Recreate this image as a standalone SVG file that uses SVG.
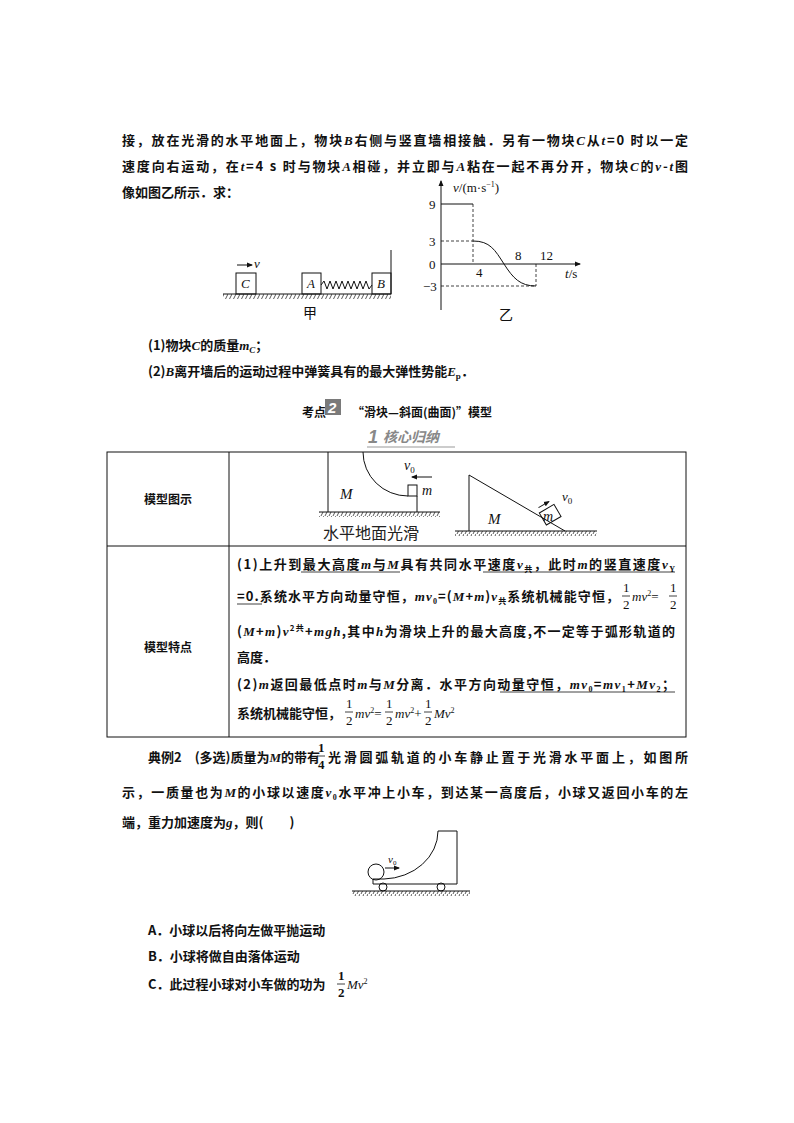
<svg xmlns="http://www.w3.org/2000/svg" width="794" height="1123" viewBox="0 0 794 1123">
<style>
.t{font-family:"Noto Sans CJK SC","Liberation Serif",sans-serif;font-size:13px;font-weight:bold;fill:#111}
.s{font-family:"Liberation Serif","Noto Sans CJK SC",serif;font-size:13px;fill:#111}
.i{font-style:italic}
.ln{stroke:#111;stroke-width:1;fill:none}
.d{stroke:#111;stroke-width:0.8;fill:none;stroke-dasharray:3,2}
.u{stroke:#111;stroke-width:0.8}
</style>
<defs>
<pattern id="h" width="4" height="6" patternUnits="userSpaceOnUse"><path d="M4,0 L1,6" stroke="#111" stroke-width="0.7"/></pattern>
<marker id="a" markerWidth="6" markerHeight="6" refX="5" refY="3" orient="auto"><path d="M0,0.5 L6,3 L0,5.5 Z" fill="#111"/></marker>
</defs>
<rect width="794" height="1123" fill="#fff"/>

<text class="t" x="122" y="145" textLength="566">接，放在光滑的水平地面上，物块<tspan class="s i">B</tspan>右侧与竖直墙相接触．另有一物块<tspan class="s i">C</tspan>从<tspan class="s i">t</tspan>=0 时以一定</text>
<text class="t" x="122" y="171" textLength="566">速度向右运动，在<tspan class="s i">t</tspan>=4 s 时与物块<tspan class="s i">A</tspan>相碰，并立即与<tspan class="s i">A</tspan>粘在一起不再分开，物块<tspan class="s i">C</tspan>的<tspan class="s i">v</tspan>-<tspan class="s i">t</tspan>图</text>
<text class="t" x="122" y="197">像如图乙所示．求：</text>

<g id="fig-jia">
<rect x="223" y="294" width="168" height="5" fill="url(#h)"/>
<line class="ln" x1="223" y1="294" x2="391" y2="294"/>
<line class="ln" x1="391" y1="250" x2="391" y2="294"/>
<rect class="ln" x="236" y="273" width="20" height="21"/>
<rect class="ln" x="302" y="273" width="19" height="21"/>
<rect class="ln" x="372" y="273" width="19" height="21"/>
<polyline class="ln" points="321,285 324,281 327,289 330,281 333,289 336,281 339,289 342,281 345,289 348,281 351,289 354,281 357,289 360,281 363,289 366,281 369,289 372,285"/>
<text class="s i" x="241" y="288">C</text><text class="s i" x="307" y="288">A</text><text class="s i" x="377" y="288">B</text>
<line class="ln" x1="237" y1="265" x2="252" y2="265" marker-end="url(#a)"/>
<text class="s i" x="254" y="268">v</text>
<text class="s" x="303" y="318" style="font-size:14px">甲</text>
</g>

<g id="fig-yi">
<line class="ln" x1="441" y1="310" x2="441" y2="181" marker-end="url(#a)"/>
<line class="ln" x1="441" y1="264" x2="580" y2="264" marker-end="url(#a)"/>
<polyline class="ln" points="441,204 473,204"/>
<line class="d" x1="473" y1="204" x2="473" y2="264"/>
<line class="d" x1="441" y1="241" x2="473" y2="241"/>
<path class="ln" d="M473,241 C490,241 495,250 504,264 C513,278 520,286 536,286"/>
<line class="d" x1="536" y1="264" x2="536" y2="286"/>
<line class="d" x1="441" y1="286" x2="536" y2="286"/>
<text class="s" x="453" y="192"><tspan class="i">v</tspan>/(m·s<tspan dy="-5" style="font-size:8px">−1</tspan><tspan dy="5">)</tspan></text>
<text class="s" x="429" y="209">9</text><text class="s" x="429" y="246">3</text><text class="s" x="429" y="269">0</text><text class="s" x="423" y="291">−3</text>
<text class="s" x="476" y="277">4</text><text class="s" x="515" y="260">8</text><text class="s" x="540" y="260">12</text>
<text class="s" x="565" y="278"><tspan class="i">t</tspan>/s</text>
<text class="s" x="499" y="320" style="font-size:14px">乙</text>
</g>

<text class="t" x="148" y="350">(1)物块<tspan class="s i">C</tspan>的质量<tspan class="s i">m</tspan><tspan class="s i" style="font-size:9px" dy="3">C</tspan><tspan dy="-3">；</tspan></text>
<text class="t" x="148" y="376">(2)<tspan class="s i">B</tspan>离开墙后的运动过程中弹簧具有的最大弹性势能<tspan class="s i">E</tspan><tspan class="s" style="font-size:9px" dy="3">p</tspan><tspan dy="-3">．</tspan></text>

<g id="heading">
<text class="t" x="302" y="417" style="font-size:12px">考点</text>
<rect x="325" y="399" width="16" height="16" fill="#7a7a7a"/>
<text x="328" y="413" style="font-family:'Liberation Sans',sans-serif;font-weight:bold;font-style:italic;font-size:15px;fill:#fff">2</text>
<text class="t" x="352" y="417" style="font-size:12px">“滑块—斜面(曲面)”模型</text>
<text x="368" y="443" style="font-family:'Liberation Sans',sans-serif;font-weight:bold;font-style:italic;font-size:18px;fill:#888">1</text>
<text x="383" y="442" style="font-family:'Noto Sans CJK SC',sans-serif;font-weight:bold;font-style:italic;font-size:14px;fill:#888">核心归纳</text>
<line x1="367" y1="447" x2="455" y2="447" stroke="#999" stroke-width="1"/>
</g>

<g id="table">
<rect class="ln" x="107" y="452" width="579" height="285"/>
<line class="ln" x1="229" y1="452" x2="229" y2="737"/>
<line class="ln" x1="107" y1="546" x2="686" y2="546"/>
<text class="t" x="168" y="504" text-anchor="middle" style="font-size:12px">模型图示</text>
<text class="t" x="168" y="652" text-anchor="middle" style="font-size:12px">模型特点</text>
</g>

<g id="fig-curve">
<line class="ln" x1="328" y1="452" x2="328" y2="512"/>
<path class="ln" d="M363,452 A45,44 0 0 0 408,496"/>
<rect class="ln" x="408" y="485" width="9" height="11"/>
<line class="ln" x1="417" y1="496" x2="417" y2="512"/>
<rect x="319" y="512" width="121" height="5" fill="url(#h)"/>
<line class="ln" x1="319" y1="512" x2="440" y2="512"/>
<line class="ln" x1="432" y1="477" x2="412" y2="477" marker-end="url(#a)"/>
<text class="s i" x="404" y="470" style="font-size:14px">v<tspan dy="3" style="font-size:9px;font-style:normal">0</tspan></text>
<text class="s i" x="422" y="495" style="font-size:14px">m</text>
<text class="s i" x="340" y="499" style="font-size:15px">M</text>
<text x="323" y="539" style="font-family:'Noto Sans CJK SC',sans-serif;font-size:16px;fill:#222">水平地面光滑</text>
</g>

<g id="fig-incline">
<polyline class="ln" points="469,531 469,475 565,531"/>
<rect x="455" y="531" width="142" height="5" fill="url(#h)"/>
<line class="ln" x1="455" y1="531" x2="597" y2="531"/>
<g transform="translate(555,520) rotate(-30.3)">
<rect class="ln" x="-10" y="-14" width="17" height="14"/>
<line class="ln" x1="4" y1="-19" x2="-8" y2="-19" marker-end="url(#a)" transform="rotate(180 -2 -19)"/>
</g>
<text class="s i" x="543" y="521" style="font-size:14px">m</text>
<text class="s i" x="562" y="501" style="font-size:13px">v<tspan dy="3" style="font-size:9px;font-style:normal">0</tspan></text>
<text class="s i" x="488" y="524" style="font-size:15px">M</text>
</g>

<g id="features">
<text class="t" x="237" y="569" textLength="438">(1)上升到最大高度<tspan class="s i">m</tspan>与<tspan class="s i">M</tspan>具有共同水平速度<tspan class="s i">v</tspan><tspan style="font-size:8px" dy="3">共</tspan><tspan dy="-3">，此时</tspan><tspan class="s i">m</tspan>的竖直速度<tspan class="s i">v</tspan><tspan class="s" style="font-size:8px" dy="3">Y</tspan></text>
<line class="u" x1="301" y1="572" x2="400" y2="572"/><line class="u" x1="483" y1="572" x2="675" y2="572"/>
<text class="t" x="237" y="601" textLength="382">=0.系统水平方向动量守恒，<tspan class="s i">mv</tspan><tspan class="s" style="font-size:8px" dy="3">0</tspan><tspan dy="-3">=(</tspan><tspan class="s i">M</tspan>+<tspan class="s i">m</tspan>)<tspan class="s i">v</tspan><tspan style="font-size:8px" dy="3">共</tspan><tspan dy="-3">系统机械能守恒，</tspan></text>
<line class="u" x1="237" y1="604" x2="262" y2="604"/>
<text class="s" x="623" y="592">1</text><line class="u" x1="622" y1="596" x2="630" y2="596"/><text class="s" x="623" y="609">2</text>
<text class="s" x="632" y="601"><tspan class="i">mv</tspan><tspan style="font-size:8px" dy="-5">2</tspan><tspan dy="5">=</tspan></text>
<text class="s" x="670" y="592">1</text><line class="u" x1="669" y1="596" x2="677" y2="596"/><text class="s" x="670" y="609">2</text>
<text class="t" x="237" y="636" textLength="438">(<tspan class="s i">M</tspan>+<tspan class="s i">m</tspan>)<tspan class="s i">v</tspan><tspan style="font-size:8px" dy="-5">2共</tspan><tspan dy="5">+</tspan><tspan class="s i">mgh</tspan>,其中<tspan class="s i">h</tspan>为滑块上升的最大高度,不一定等于弧形轨道的</text>
<text class="t" x="237" y="662">高度．</text>
<text class="t" x="237" y="689" textLength="438">(2)<tspan class="s i">m</tspan>返回最低点时<tspan class="s i">m</tspan>与<tspan class="s i">M</tspan>分离．水平方向动量守恒，<tspan class="s i">mv</tspan><tspan class="s" style="font-size:8px" dy="3">0</tspan><tspan dy="-3">=</tspan><tspan class="s i">mv</tspan><tspan class="s" style="font-size:8px" dy="3">1</tspan><tspan dy="-3">+</tspan><tspan class="s i">Mv</tspan><tspan class="s" style="font-size:8px" dy="3">2</tspan><tspan dy="-3">；</tspan></text>
<line class="u" x1="500" y1="692" x2="675" y2="692"/>
<text class="t" x="237" y="718">系统机械能守恒，</text>
<text class="s" x="346" y="708">1</text><line class="u" x1="345" y1="712" x2="353" y2="712"/><text class="s" x="346" y="725">2</text>
<text class="s" x="355" y="718"><tspan class="i">mv</tspan><tspan style="font-size:8px" dy="-5">2</tspan><tspan dy="5">=</tspan></text>
<text class="s" x="386" y="708">1</text><line class="u" x1="385" y1="712" x2="393" y2="712"/><text class="s" x="386" y="725">2</text>
<text class="s" x="395" y="718"><tspan class="i">mv</tspan><tspan style="font-size:8px" dy="-5">2</tspan><tspan dy="5">+</tspan></text>
<text class="s" x="425" y="708">1</text><line class="u" x1="424" y1="712" x2="432" y2="712"/><text class="s" x="425" y="725">2</text>
<text class="s" x="434" y="718"><tspan class="i">Mv</tspan><tspan style="font-size:8px" dy="-5">2</tspan></text>
</g>

<text class="t" x="148" y="762">典例2　(多选)质量为<tspan class="s i">M</tspan>的带有</text>
<text class="s" x="318" y="752" style="font-weight:bold">1</text><line class="u" x1="317" y1="756" x2="325" y2="756"/><text class="s" x="318" y="769" style="font-weight:bold">4</text>
<text class="t" x="328" y="762" textLength="360">光滑圆弧轨道的小车静止置于光滑水平面上，如图所</text>
<text class="t" x="122" y="797" textLength="566">示，一质量也为<tspan class="s i">M</tspan>的小球以速度<tspan class="s i">v</tspan><tspan class="s" style="font-size:8px" dy="3">0</tspan><tspan dy="-3">水平冲上小车，到达某一高度后，小球又返回小车的左</tspan></text>
<text class="t" x="122" y="827">端，重力加速度为<tspan class="s i">g</tspan>，则(　　)</text>

<g id="fig-cart">
<rect x="352" y="891" width="118" height="5" fill="url(#h)"/>
<line class="ln" x1="352" y1="891" x2="470" y2="891"/>
<path class="ln" d="M373,884 L373,879 L384,879 A56,48 0 0 0 438,831 L457,831 L457,884 Z"/>
<circle class="ln" cx="383" cy="887" r="4"/>
<circle class="ln" cx="441" cy="887" r="4"/>
<circle class="ln" cx="376" cy="872" r="8"/>
<line class="ln" x1="385" y1="868" x2="399" y2="868" marker-end="url(#a)"/>
<text class="s i" x="388" y="863" style="font-size:11px">v<tspan dy="2" style="font-size:7px;font-style:normal">0</tspan></text>
</g>

<text class="t" x="148" y="935">A．小球以后将向左做平抛运动</text>
<text class="t" x="148" y="961">B．小球将做自由落体运动</text>
<text class="t" x="148" y="989">C．此过程小球对小车做的功为</text>
<text class="s" x="338" y="980" style="font-weight:bold">1</text><line class="u" x1="337" y1="984" x2="345" y2="984"/><text class="s" x="338" y="997" style="font-weight:bold">2</text>
<text class="s" x="347" y="989"><tspan class="i">Mv</tspan><tspan style="font-size:8px" dy="-5">2</tspan></text>
</svg>
